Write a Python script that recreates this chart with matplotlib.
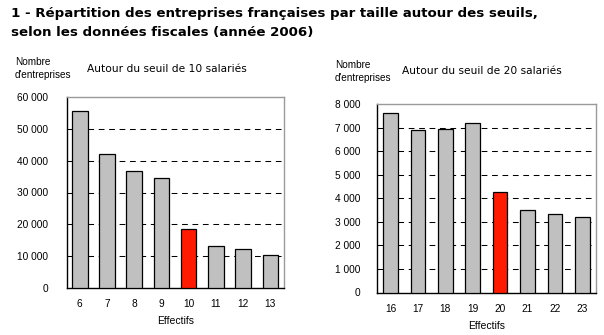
import matplotlib.pyplot as plt

# Effectifs autour des seuils et nombre d'entreprises (données fiscales 2006)
eff_10 = ['6', '7', '8', '9', '10', '11', '12', '13']
nb_10 = [55600, 42000, 36800, 34500, 18400, 13300, 12400, 10500]

eff_20 = ['16', '17', '18', '19', '20', '21', '22', '23']
nb_20 = [7600, 6900, 6950, 7200, 4250, 3500, 3350, 3200]

seuil_10 = '10'
seuil_20 = '20'

GREY = '#c0c0c0'
RED = '#ff1a00'
SMALL = 7.3

W, H = 604, 335

plt.rcParams['font.family'] = ['Liberation Sans', 'DejaVu Sans']

fig = plt.figure(figsize=(W / 100, H / 100), dpi=100)
fig.patch.set_facecolor('white')


def put(x, y, s, **kw):
    # place text using pixel coordinates from the top-left corner
    fig.text(x / W, 1 - y / H, s, va='baseline', ha='left', **kw)


put(11, 16.7, "1 - Répartition des entreprises françaises par taille autour des seuils,",
    family='DejaVu Sans', fontweight='bold', fontsize=9.6)
put(11, 36, "selon les données fiscales (année 2006)",
    family='DejaVu Sans', fontweight='bold', fontsize=9.6)


def draw_panel(rect, labels, values, seuil, ymax, step, width, x0, ypad):
    ax = fig.add_axes(rect)
    colors = [RED if lab == seuil else GREY for lab in labels]
    xs = range(len(labels))
    ax.bar(xs, values, width=width, color=colors, edgecolor='black',
           linewidth=0.9, zorder=3)
    ax.set_xlim(x0, len(labels) - 0.5)
    ax.set_ylim(0, ymax)
    ticks = list(range(0, ymax + 1, step))
    ax.set_yticks(ticks)
    ax.set_yticklabels([f"{t:,}".replace(',', ' ') for t in ticks], fontsize=SMALL)
    ax.set_xticks(list(xs))
    ax.set_xticklabels(labels, fontsize=SMALL)
    for t in ticks[1:-1]:
        ax.axhline(t, color='black', linestyle=(0, (5.5, 4.5)), linewidth=0.75, zorder=1)
    ax.tick_params(axis='x', length=0, pad=8)
    ax.tick_params(axis='y', length=0, pad=ypad)
    for side in ('top', 'right'):
        ax.spines[side].set_color('#9a9a9a')
        ax.spines[side].set_linewidth(1.0)
    for side in ('left', 'bottom'):
        ax.spines[side].set_color('black')
        ax.spines[side].set_linewidth(1.0)
    ax.set_xlabel('Effectifs', fontsize=7.5, labelpad=5)
    return ax


draw_panel([67 / W, 1 - 288 / H, 217 / W, 191 / H], eff_10, nb_10, seuil_10,
           60000, 10000, 0.57, -0.47, 13.5)
draw_panel([377 / W, 1 - 292.5 / H, 219 / W, 188.5 / H], eff_20, nb_20, seuil_20,
           8000, 1000, 0.53, -0.49, 12)

put(15, 65, "Nombre", fontsize=7.2)
put(15, 78, "d'entreprises", fontsize=7.2)
put(87, 72.5, "Autour du seuil de 10 salariés", family='DejaVu Sans', fontsize=7.7)
put(335, 68, "Nombre", fontsize=7.2)
put(335, 81, "d'entreprises", fontsize=7.2)
put(402, 74.5, "Autour du seuil de 20 salariés", family='DejaVu Sans', fontsize=7.7)

fig.savefig('out.png', dpi=100, facecolor='white')
